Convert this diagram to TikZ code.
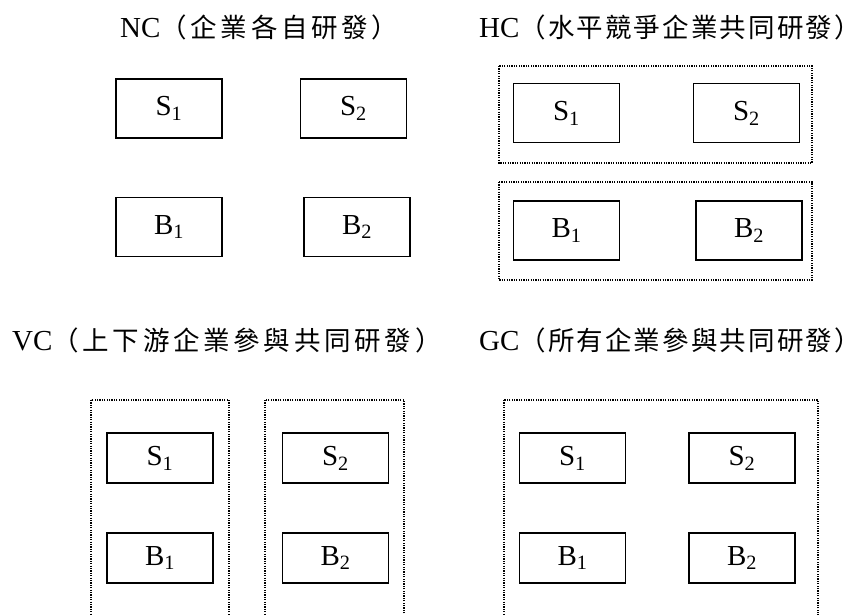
\documentclass[tikz,border=0pt]{standalone}
\usepackage{fontspec}
\setmainfont{Liberation Serif}
\newfontfamily\cjkfont[LetterSpace=14]{Noto Sans CJK TC}
\newfontfamily\cjktight[LetterSpace=8]{Noto Sans CJK TC}
\newcommand{\zh}[1]{{\cjkfont\fontsize{26.5}{30}\selectfont #1}}
\newcommand{\zhtight}[1]{{\cjktight\fontsize{26.5}{30}\selectfont #1}}
\newcommand{\firmlabel}[2]{#1\textsubscript{#2}}

\begin{document}
\begin{tikzpicture}
[
x=1pt, y=-1pt,
firm/.style     = {draw, line width=1.4pt, rectangle, minimum width=106pt, minimum height=59pt, font=\fontsize{29}{32}\selectfont},
shortfirm/.style= {firm, minimum height=50pt},
title/.style    = {anchor=west, inner sep=0pt, font=\fontsize{29}{32}\selectfont},
group/.style    = {draw, line width=1.2pt, dash pattern=on 1.2pt off 1.2pt},
]
\useasboundingbox (0,0) rectangle (865,615);

% NC
\node at (120,27)[title] (nctitle) {NC\zh{（企業各自研發）}};
\node at (169,108.5)[firm] (ncs1) {\firmlabel{S}{1}};
\node at (353.5,108.5)[firm] (ncs2) {\firmlabel{S}{2}};
\node at (169,227)[firm] (ncb1) {\firmlabel{B}{1}};
\node at (357,227)[firm] (ncb2) {\firmlabel{B}{2}};

% HC
\node at (479,27)[title] (hctitle) {HC\zhtight{（水平競爭企業共同研發）}};
\draw[group] (499,66) rectangle (812,163);
\draw[group] (499,182) rectangle (812,280);
\node at (566.5,113)[firm] (hcs1) {\firmlabel{S}{1}};
\node at (746.5,113)[firm] (hcs2) {\firmlabel{S}{2}};
\node at (566.5,230.5)[firm] (hcb1) {\firmlabel{B}{1}};
\node at (749,230.5)[firm] (hcb2) {\firmlabel{B}{2}};

% VC
\node at (12,340)[title] (vctitle) {VC\zh{（上下游企業參與共同研發）}};
\draw[group] (91,400) rectangle (229,640);
\draw[group] (265,400) rectangle (404,640);
\node at (160,458)[shortfirm] (vcs1) {\firmlabel{S}{1}};
\node at (335.5,458)[shortfirm] (vcs2) {\firmlabel{S}{2}};
\node at (160,558)[shortfirm] (vcb1) {\firmlabel{B}{1}};
\node at (335.5,558)[shortfirm] (vcb2) {\firmlabel{B}{2}};

% GC
\node at (479,340)[title] (gctitle) {GC\zhtight{（所有企業參與共同研發）}};
\draw[group] (504,400) rectangle (818,640);
\node at (572.5,458)[shortfirm] (gcs1) {\firmlabel{S}{1}};
\node at (742,458)[shortfirm] (gcs2) {\firmlabel{S}{2}};
\node at (572.5,558)[shortfirm] (gcb1) {\firmlabel{B}{1}};
\node at (742,558)[shortfirm] (gcb2) {\firmlabel{B}{2}};
\end{tikzpicture}
\end{document}
